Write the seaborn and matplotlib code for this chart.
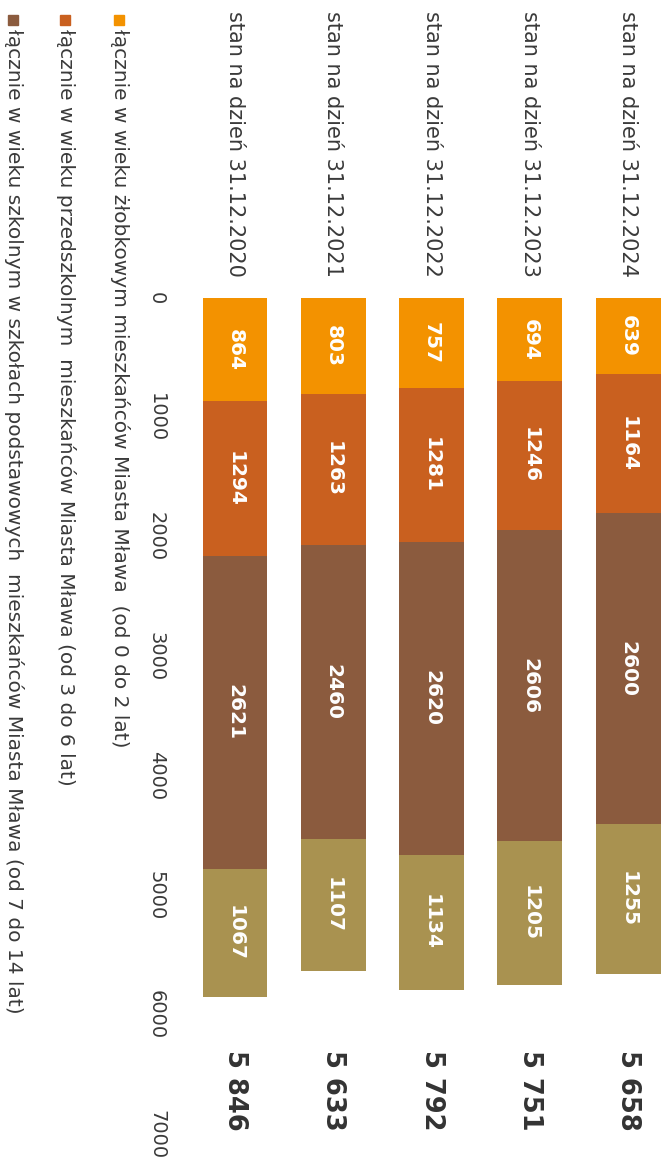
import numpy as np
import pandas as pd
import matplotlib
matplotlib.use("Agg")
import matplotlib.pyplot as plt
from matplotlib.patches import Rectangle
import seaborn as sns

# dane (od lewej: 2020 -> 2024)
daty = ["stan na dzień 31.12.2020", "stan na dzień 31.12.2021", "stan na dzień 31.12.2022",
        "stan na dzień 31.12.2023", "stan na dzień 31.12.2024"]
zlobek = [864, 803, 757, 694, 639]
przedszkole = [1294, 1263, 1281, 1246, 1164]
szkola = [2621, 2460, 2620, 2606, 2600]
szkola_inne = [1067, 1107, 1134, 1205, 1255]
razem = [5846, 5633, 5792, 5751, 5658]

legenda = [
    "łącznie w wieku żłobkowym mieszkańców Miasta Mława  (od 0 do 2 lat)",
    "łącznie w wieku przedszkolnym  mieszkańców Miasta Mława (od 3 do 6 lat)",
    "łącznie w wieku szkolnym w szkołach podstawowych  mieszkańców Miasta Mława (od 7 do 14 lat)",
]
ticki = [0, 1000, 2000, 3000, 4000, 5000, 6000, 7000]

kolory = ["#F39200", "#C9601F", "#8B5B3E", "#A99250"]
tekst = "#3a3a3a"

sns.set_style("white")
plt.rcParams['font.family'] = ['DejaVu Sans']

df = pd.DataFrame({"data": daty, "z": zlobek, "p": przedszkole, "s": szkola, "k": szkola_inne})
warstwy = ["z", "p", "s", "k"]
cum = df[warstwy].cumsum(axis=1)

fig = plt.figure(figsize=(6.65, 11.64), dpi=100)
ax = fig.add_axes([180/665, 1 - 1134.5/1164, 485/665, 836.5/1164])

# stos: rysujemy od najwyzszej sumy w dol
for w, c in reversed(list(zip(warstwy, kolory))):
    sns.barplot(x=df["data"], y=cum[w], color=c, width=0.66, saturation=1,
                errorbar=None, linewidth=0, ax=ax)

# etykiety wartosci w segmentach
for i in range(len(df)):
    dol = 0
    for w in warstwy:
        v = df.loc[i, w]
        ax.text(i, dol + v/2, str(v), rotation=-90, ha="center", va="center",
                color="white", fontsize=14.5, fontweight="bold")
        dol += v
    ax.text(i, 6290, f"{razem[i]:,}".replace(",", " "), rotation=-90, ha="center", va="top",
            color="#333333", fontsize=18.5, fontweight="bold")

ax.set_ylim(7000, 0)
ax.set_xlim(-0.5595, 4.374)
ax.set_xlabel("")
ax.set_ylabel("")
sns.despine(ax=ax, left=True, bottom=True)

ax.set_yticks(ticki)
ax.set_yticklabels([str(t) for t in ticki], rotation=-90, ha="center", va="center",
                   fontsize=14, color=tekst)
ax.tick_params(axis="y", length=0, pad=17)

ax.xaxis.tick_top()
ax.set_xticks(range(len(daty)))
ax.set_xticklabels(daty, rotation=-90, ha="center", va="bottom", fontsize=15, color=tekst)
ax.tick_params(axis="x", length=0, pad=15)

# legenda (obrocona)
leg_x = [120, 66, 14]
for lx, c, t in zip(leg_x, kolory[:3], legenda):
    fig.patches.append(Rectangle(((lx - 6)/665, 1 - 25/1164), 10/665, 10/1164,
                                 transform=fig.transFigure, color=c, figure=fig))
    fig.text(lx/665, 1 - 29/1164, t, rotation=-90, ha="center", va="top",
             fontsize=14.5, color=tekst)

fig.savefig("out.png", dpi=100)
